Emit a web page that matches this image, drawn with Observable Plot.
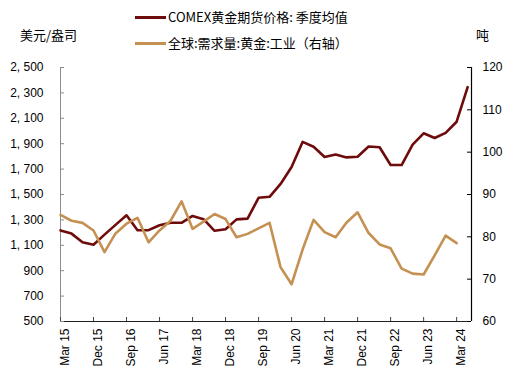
<!DOCTYPE html>
<html>
<head>
<meta charset="utf-8">
<script src="https://cdn.jsdelivr.net/npm/d3@7"></script>
<script src="https://cdn.jsdelivr.net/npm/@observablehq/plot@0.6"></script>
<style>
  body { margin: 0; background: #fff; }
  #wrap { position: relative; width: 509px; height: 383px; overflow: hidden; font-family: "Noto Sans CJK SC", "Liberation Sans", sans-serif; color: #000; }
  #wrap svg { position: absolute; left: 0; top: 0; }
  .lbl { position: absolute; font-size: 13px; line-height: 16px; white-space: nowrap; }
  .sw { position: absolute; height: 2.5px; width: 31px; }
</style>
</head>
<body>
<div id="wrap"></div>
<script>
// ---- data ----
const tickLabels = ["Mar 15","Dec 15","Sep 16","Jun 17","Mar 18","Dec 18","Sep 19","Jun 20","Mar 21","Dec 21","Sep 22","Jun 23","Mar 24"];
// COMEX gold futures, quarterly average (USD/oz), Q1 2015 .. Q2 2024
const goldPrice = [1217,1192,1124,1105,1184,1261,1336,1218,1219,1258,1278,1277,1331,1306,1214,1227,1304,1310,1474,1482,1583,1716,1914,1876,1795,1815,1792,1797,1878,1872,1732,1732,1893,1982,1945,1985,2073,2345];
// Global industrial gold demand (tonnes), Q1 2015 .. Q1 2024
const industrialDemand = [85.2,83.8,83.3,81.5,76.4,80.8,83.1,84.5,78.7,81.5,83.8,88.4,81.9,83.6,85.4,84.2,79.9,80.7,82.0,83.3,72.8,68.8,77.0,84.0,81.1,79.9,83.4,85.8,80.9,78.2,77.3,72.5,71.3,71.1,75.6,80.3,78.5];
const leftTicks = [500,700,900,1100,1300,1500,1700,1900,2100,2300,2500];
const rightTicks = [60,70,80,90,100,110,120];

const darkColor = "#6E0B0B";
const tanColor = "#C59152";

// right-axis value -> left-axis units
const toLeft = v => 500 + (v - 60) / 60 * 2000;
const xMax = 37.35;

const goldData = goldPrice.map((v, i) => ({i, v}));
const demData = industrialDemand.map((v, i) => ({i, v: toLeft(v)}));
const xTicks = tickLabels.map((t, k) => ({i: k * 3, t}));
const fmt = d3.format(",");

const W = 509, H = 383, mT = 67, mB = 62, mL = 60, mR = 38;
const frameW = W - mL - mR, frameH = H - mT - mB;

const svg = Plot.plot({
  width: W, height: H,
  marginTop: mT, marginBottom: mB, marginLeft: mL, marginRight: mR,
  style: {fontFamily: "'Liberation Sans', Arial, sans-serif", fontSize: "12px", background: "transparent", color: "#000"},
  x: {domain: [0, xMax], axis: null},
  y: {domain: [500, 2500], axis: null},
  marks: [
    // axis lines
    Plot.ruleX([0], {stroke: "#8c8c8c", strokeWidth: 1}),
    Plot.ruleX([xMax], {stroke: "#000", strokeWidth: 1.2}),
    Plot.ruleY([500], {stroke: "#222", strokeWidth: 1}),
    // inside ticks
    Plot.tickY(leftTicks, {y: d => d, stroke: "#8c8c8c", insetRight: frameW - 4}),
    Plot.tickY(rightTicks, {y: d => toLeft(d), stroke: "#000", insetLeft: frameW - 4}),
    Plot.tickX(xTicks, {x: "i", stroke: "#444", insetTop: frameH - 4}),
    // tick labels
    Plot.text(leftTicks, {x: 0, y: d => d, text: d => fmt(d).replace(",", ", "), textAnchor: "end", dx: -17, fontSize: 12}),
    Plot.text(rightTicks, {x: xMax, y: d => toLeft(d), text: d => String(d), textAnchor: "start", dx: 11, fontSize: 12}),
    Plot.text(xTicks, {x: "i", y: 500, text: "t", rotate: -90, textAnchor: "end", lineAnchor: "top", dy: 7, dx: 0, fontSize: 12}),
    // series
    Plot.line(goldData, {x: "i", y: "v", stroke: darkColor, strokeWidth: 2.6}),
    Plot.line(demData, {x: "i", y: "v", stroke: tanColor, strokeWidth: 2.6})
  ]
});

const wrap = document.getElementById("wrap");
wrap.appendChild(svg);

function addLabel(text, left, top, size) {
  const d = document.createElement("div");
  d.className = "lbl";
  d.textContent = text;
  d.style.left = left + "px";
  d.style.top = top + "px";
  if (size) d.style.fontSize = size + "px";
  wrap.appendChild(d);
}
function addSwatch(color, left, top) {
  const d = document.createElement("div");
  d.className = "sw";
  d.style.background = color;
  d.style.left = left + "px";
  d.style.top = top + "px";
  wrap.appendChild(d);
}
addSwatch(darkColor, 135, 16);
addLabel("COMEX黄金期货价格: 季度均值", 168, 9);
addSwatch(tanColor, 135, 42);
addLabel("全球:需求量:黄金:工业（右轴）", 168, 35);
addLabel("美元/盎司", 20, 27);
addLabel("吨", 476, 27);
</script>
</body>
</html>
